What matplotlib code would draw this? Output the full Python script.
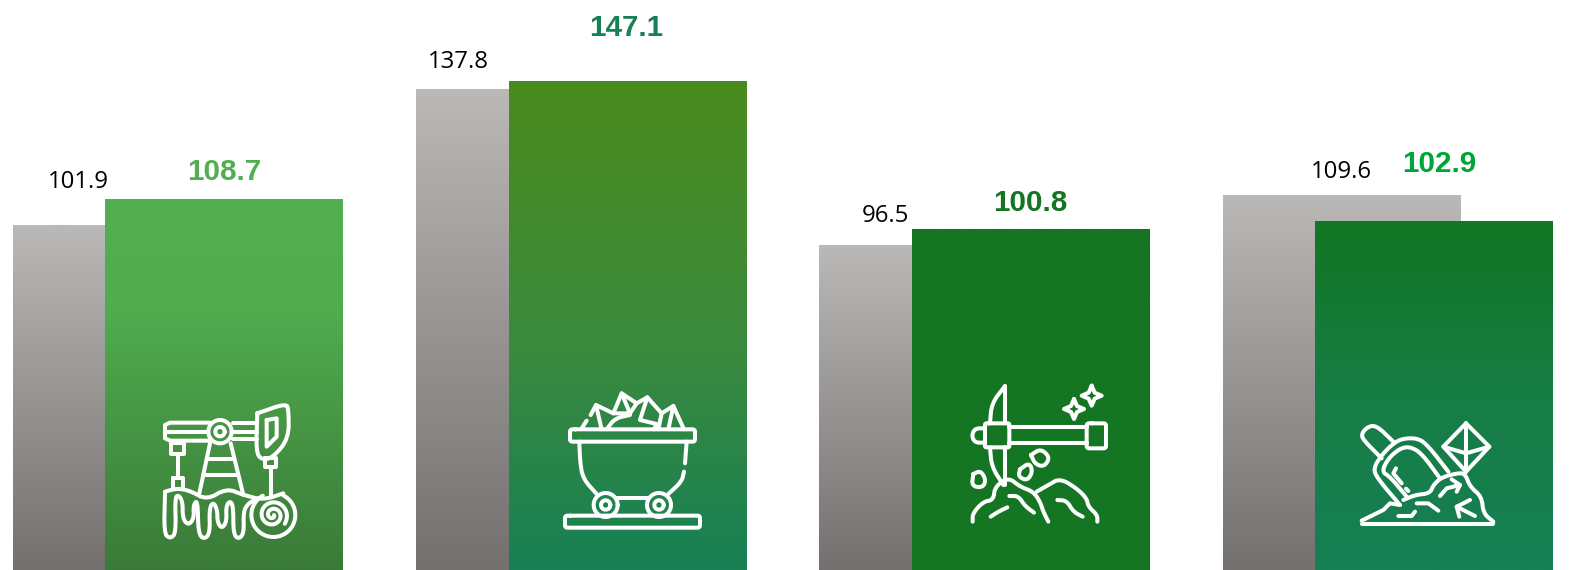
import numpy as np
import matplotlib
matplotlib.use("Agg")
import matplotlib.pyplot as plt
from matplotlib.colors import LinearSegmentedColormap

W, H = 1587, 570

# values per pair
prev_values = [101.9, 137.8, 96.5, 109.6]
curr_values = [108.7, 147.1, 100.8, 102.9]
curr_colors = ["#52AE50", "#178054", "#147522", "#00A537"]

# each pair sits on its own value axis (bottom, top)
panel_ylim = [(11.7, 160.8), (-421.5, 241.3), (9.1, 162.4), (14.7, 158.8)]
panel_left = [12.6, 416, 819, 1222.5]
panel_width = 330.5

# gradients top -> bottom
gray_grad = [(0, "#BAB9B7"), (1, "#747070")]
curr_grads = [
    [(0, "#52AE50"), (0.3, "#50AC4F"), (1, "#3A7A38")],
    [(0, "#4A8B1C"), (0.55, "#3A8A3E"), (1, "#178054")],
    [(0, "#147522"), (1, "#147522")],
    [(0, "#127622"), (0.5, "#167D45"), (1, "#178054")],
]

# label offset from the bar top-centre, in pixels
prev_label_off = [(-53, -43), (-77, -27), (-53, -29), (0, -23)]
curr_label_off = [(0, -27), (-1, -53), (0, -26), (5, -57)]


def grad_bar(ax, x, width, bottom, top, colors):
    bar = ax.bar(x, top - bottom, width=width, bottom=bottom, color="none", linewidth=0)[0]
    cmap = LinearSegmentedColormap.from_list("g", colors)
    g = np.linspace(0, 1, 256).reshape(-1, 1)
    im = ax.imshow(g, cmap=cmap, aspect="auto", origin="upper", zorder=x + 2,
                   extent=(x - width / 2, x + width / 2, bottom, top))
    im.set_clip_path(bar)


fig = plt.figure(figsize=(W / 100, H / 100), dpi=100)
off = 92.5  # pixel distance between the two bars of a pair
bar_w = 238 / off

for i in range(4):
    ax = fig.add_axes([panel_left[i] / W, 0, panel_width / W, 1])
    lo, hi = panel_ylim[i]
    grad_bar(ax, 0, bar_w, lo, prev_values[i], gray_grad)
    grad_bar(ax, 1, bar_w, lo, curr_values[i], curr_grads[i])
    ax.set_xlim(-bar_w / 2, 1 + bar_w / 2)
    ax.set_ylim(lo, hi)
    ax.axis("off")
    dx, dy = prev_label_off[i]
    ax.annotate(f"{prev_values[i]:.1f}", (0, prev_values[i]), xytext=(dx * 0.72, -dy * 0.72),
                textcoords="offset points", ha="center", va="center",
                family="Open Sans", fontsize=17.3, color="#000000", zorder=10)
    dx, dy = curr_label_off[i]
    ax.annotate(f"{curr_values[i]:.1f}", (1, curr_values[i]), xytext=(dx * 0.72, -dy * 0.72),
                textcoords="offset points", ha="center", va="center",
                family="Liberation Sans", fontsize=21.3, fontweight="bold",
                color=curr_colors[i], zorder=10)

# white line icons, drawn on a pixel overlay
ov = fig.add_axes([0, 0, 1, 1], facecolor="none", zorder=20)
ov.set_xlim(0, W)
ov.set_ylim(H, 0)
ov.axis("off")


def smooth(pts, n=2):
    p = np.array(pts, dtype=float)
    for _ in range(n):
        q = 0.75 * p[:-1] + 0.25 * p[1:]
        r = 0.25 * p[:-1] + 0.75 * p[1:]
        mid = np.empty((2 * len(q), 2))
        mid[0::2] = q
        mid[1::2] = r
        p = np.vstack([p[:1], mid, p[-1:]])
    return p


def icon(origin, lines=(), curves=(), circles=()):
    x0, y0 = origin
    kw = dict(color="white", lw=2.9, solid_capstyle="round", solid_joinstyle="round")
    for pts in lines:
        p = np.array(pts, dtype=float)
        ov.plot(x0 + p[:, 0] / 3, y0 + p[:, 1] / 3, **kw)
    for pts in curves:
        p = smooth(pts)
        ov.plot(x0 + p[:, 0] / 3, y0 + p[:, 1] / 3, **kw)
    for cx, cy, r in circles:
        t = np.linspace(0, 2 * np.pi, 60)
        ov.plot(x0 + (cx + r * np.cos(t)) / 3, y0 + (cy + r * np.sin(t)) / 3, **kw)


def rrect(x1, y1, x2, y2, r):
    return [(x1 + r, y1), (x2 - r, y1), (x2, y1), (x2, y1 + r), (x2, y2 - r), (x2, y2),
            (x2 - r, y2), (x1 + r, y2), (x1, y2), (x1, y2 - r), (x1, y1 + r), (x1, y1), (x1 + r, y1)]


def star(cx, cy, r):
    return [(cx, cy - r), (cx + r * .3, cy - r * .3), (cx + r, cy), (cx + r * .3, cy + r * .3),
            (cx, cy + r), (cx - r * .3, cy + r * .3), (cx - r, cy), (cx - r * .3, cy - r * .3), (cx, cy - r)]


# pump jack
t = np.linspace(0, 4.2 * np.pi, 70)
spiral = [(818 + (4 + 3.1 * a) * np.cos(a), 1095 + (4 + 3.1 * a) * np.sin(a)) for a in t]
t2 = np.linspace(-1.1, 1.5 * np.pi - 0.5, 60)
outer = [(820 + 66 * np.cos(a), 1095 + 66 * np.sin(a)) for a in t2]
icon((0, 150),
     lines=[[(630, 818), (510, 818), (495, 825), (495, 865), (510, 872), (630, 872)],
            [(500, 845), (625, 845)],
            [(698, 818), (770, 818)], [(698, 845), (770, 845)], [(698, 868), (770, 868)],
            [(512, 878), (552, 878), (552, 912), (512, 912), (512, 878)],
            [(535, 912), (535, 985)],
            [(518, 985), (548, 985), (548, 1018), (518, 1018), (518, 985)],
            [(630, 880), (598, 1030)], [(692, 880), (730, 1035)],
            [(620, 928), (700, 928)], [(608, 975), (715, 975)],
            [(795, 925), (828, 925), (828, 950), (795, 950), (795, 925)],
            [(812, 950), (812, 1035)],
            [(800, 810), (830, 805), (830, 860), (800, 890), (800, 810)]],
     curves=[[(772, 790), (858, 760), (866, 780), (866, 865), (820, 922), (785, 930), (768, 905), (772, 790)],
             [(495, 1025), (530, 1015), (570, 1022), (620, 1050), (680, 1015), (730, 1035), (790, 1050), (850, 1030)],
             [(495, 1030), (492, 1150), (510, 1166), (528, 1150), (525, 1045), (535, 1034), (548, 1055),
              (548, 1105), (565, 1126), (582, 1105), (580, 1065), (593, 1050), (595, 1150), (612, 1168),
              (630, 1150), (628, 1075), (640, 1056), (652, 1080), (652, 1115), (665, 1136), (680, 1115),
              (678, 1070), (690, 1052), (700, 1070), (700, 1150), (715, 1168), (732, 1150), (730, 1085),
              (745, 1060), (765, 1050)],
             spiral, outer],
     circles=[(660, 845, 35), (660, 845, 14)])

# mine cart
icon((400, 370),
     lines=[[(588, 105), (605, 178)], [(572, 135), (588, 105), (640, 130), (665, 70), (710, 100), (742, 82),
                                       (785, 130), (820, 108), (852, 178)],
            [(545, 175), (560, 152)], [(665, 70), (690, 130), (640, 130)], [(710, 100), (690, 130)],
            [(742, 82), (720, 150), (770, 162), (762, 178)], [(785, 130), (775, 178)], [(820, 108), (805, 178)],
            [(650, 385), (745, 385)], [(860, 215), (855, 280)]],
     curves=[[(620, 178), (645, 145), (690, 135)],
             rrect(510, 178, 885, 215, 16), rrect(495, 437, 900, 473, 16),
             [(538, 215), (540, 270), (548, 325), (590, 372)],
             [(852, 305), (845, 335), (805, 372)]],
     circles=[(617, 405, 36), (617, 405, 14), (777, 405, 36), (777, 405, 14)])

# pickaxe
icon((900, 370),
     lines=[[(328, 172), (560, 172)], [(328, 218), (560, 218)],
            [(315, 48), (315, 160)], [(315, 232), (315, 345)],
            star(522, 117, 30), star(575, 77, 30)],
     curves=[rrect(255, 160, 328, 232, 10), rrect(560, 160, 618, 235, 16),
             [(255, 175), (225, 175), (215, 197), (225, 218), (255, 218)],
             [(315, 48), (275, 100), (270, 160)], [(270, 232), (275, 290), (310, 345)],
             [(220, 312), (242, 302), (258, 330), (248, 353), (215, 348), (220, 312)],
             [(360, 298), (388, 278), (398, 305), (382, 332), (355, 320), (360, 298)],
             [(393, 255), (422, 236), (450, 262), (433, 290), (406, 283), (393, 255)],
             [(218, 455), (218, 430), (250, 395), (280, 390), (285, 350), (325, 322), (360, 350), (400, 365),
              (420, 395), (430, 425), (445, 455)],
             [(410, 365), (445, 345), (480, 325), (530, 355), (560, 385), (565, 410), (592, 435), (592, 455)],
             [(272, 440), (295, 425), (322, 412)],
             [(328, 378), (355, 378), (375, 408), (402, 428)],
             [(472, 390), (500, 392), (520, 425), (548, 440)]])

# scoop and gem
icon((1300, 390),
     lines=[[(498, 100), (568, 170), (498, 245), (430, 170), (498, 100)],
            [(430, 170), (498, 190), (568, 170)], [(498, 100), (498, 245)],
            [(185, 402), (580, 402)],
            [(288, 235), (280, 250), (305, 280)], [(318, 296), (325, 303)],
            [(295, 378), (335, 378), (345, 365)], [(350, 340), (385, 340), (415, 362)],
            [(420, 318), (440, 295), (480, 285)], [(455, 268), (480, 285), (470, 305)],
            [(478, 380), (470, 350), (510, 330)], [(470, 350), (525, 378)],
            [(185, 392), (250, 360), (270, 340), (300, 345)]],
     curves=[[(280, 155), (228, 105), (200, 112), (183, 135), (195, 155), (245, 205)],
             [(300, 345), (232, 265), (220, 235), (245, 195), (280, 160), (310, 145), (355, 145), (385, 168), (445, 245)],
             [(320, 320), (270, 260), (245, 245), (265, 205), (300, 175), (330, 170), (365, 190), (420, 265)],
             [(310, 330), (345, 315), (390, 310), (400, 285), (425, 262), (470, 250), (495, 250), (510, 290),
              (545, 320), (550, 370), (580, 395)]])

fig.savefig("out.png", dpi=100)
